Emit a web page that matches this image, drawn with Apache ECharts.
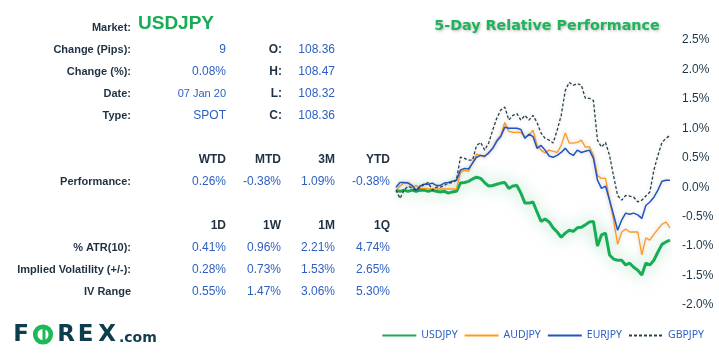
<!DOCTYPE html>
<html>
<head>
<meta charset="utf-8">
<script src="https://cdn.jsdelivr.net/npm/echarts@6/dist/echarts.min.js"></script>
<style>
html,body{margin:0;padding:0;background:#fff;}
#chart{width:719px;height:359px;}
</style>
</head>
<body>
<div id="chart"></div>
<script>
// ---- Chart data (percent change over 5 days) ----
const USDJPY = [-0.05,-0.07,-0.05,-0.07,-0.05,-0.07,-0.05,-0.05,-0.07,-0.05,-0.07,-0.08,-0.07,-0.10,-0.08,-0.07,
  0.07,0.08,0.10,0.14,0.17,0.15,0.08,0.02,0.03,0.05,0.07,0.08,-0.02,0.02,0.03,-0.10,-0.27,-0.27,-0.25,-0.42,
  -0.58,-0.54,-0.59,-0.69,-0.76,-0.85,-0.78,-0.73,-0.75,-0.69,-0.68,-0.64,-0.59,-0.58,-1.00,-0.81,-0.78,-1.15,
  -1.22,-1.24,-1.24,-1.32,-1.29,-1.36,-1.41,-1.49,-1.29,-1.32,-1.24,-1.10,-0.97,-0.93,-0.90];
const AUDJPY = [-0.05,0.02,0.07,0.08,0.00,0.03,-0.02,-0.02,-0.03,-0.03,-0.03,-0.03,-0.03,-0.03,-0.03,-0.03,
  0.25,0.29,0.27,0.42,0.56,0.54,0.51,0.59,0.66,0.80,0.88,1.10,0.95,0.93,0.93,0.93,0.85,0.88,0.97,0.71,
  0.63,0.58,0.63,0.61,0.59,0.71,0.92,0.75,0.75,0.76,0.80,0.68,0.69,0.54,0.20,0.15,0.15,-0.22,
  -0.56,-0.97,-0.76,-0.71,-0.76,-0.76,-0.76,-1.15,-0.86,-0.90,-0.80,-0.71,-0.63,-0.59,-0.69];
const EURJPY = [0.00,0.08,0.08,0.07,0.03,-0.05,0.02,0.05,0.05,0.07,0.03,0.03,0.07,0.08,0.10,0.12,
  0.29,0.32,0.31,0.41,0.51,0.54,0.53,0.58,0.66,0.78,0.86,1.02,1.00,1.00,1.00,0.98,0.83,0.90,0.86,0.66,
  0.71,0.63,0.53,0.51,0.54,0.59,0.66,0.58,0.54,0.63,0.59,0.61,0.63,0.49,0.12,-0.02,0.02,-0.22,
  -0.47,-0.73,-0.56,-0.44,-0.46,-0.44,-0.47,-0.53,-0.31,-0.25,-0.17,-0.05,0.10,0.12,0.12];
const GBPJPY = [-0.05,-0.19,-0.05,0.02,-0.02,-0.05,0.00,0.05,0.08,-0.05,0.00,0.00,0.03,0.07,0.08,0.12,
  0.51,0.49,0.46,0.46,0.71,0.76,0.63,0.75,0.97,1.17,1.31,1.36,1.14,1.22,1.25,1.14,1.22,1.14,1.22,1.10,
  0.92,0.83,0.80,0.75,0.97,1.22,1.64,1.78,1.73,1.76,1.73,1.51,1.51,1.47,0.80,0.68,0.76,0.54,
  0.19,-0.14,-0.22,-0.14,-0.15,-0.17,-0.25,-0.22,-0.15,-0.08,0.29,0.54,0.76,0.83,0.88];
const categories = USDJPY.map((_, i) => String(i + 1));
const yTicks = { min: -2.0, max: 2.5, step: 0.5 };

// ---- Table data ----
const marketName = 'USDJPY';
const infoLabels = ['Change (Pips):', 'Change (%):', 'Date:', 'Type:'];
const infoValues = ['9', '0.08%', '07 Jan 20', 'SPOT'];
const ohlcLabels = ['O:', 'H:', 'L:', 'C:'];
const ohlcValues = ['108.36', '108.47', '108.32', '108.36'];
const perfHeaders = ['WTD', 'MTD', '3M', 'YTD'];
const perfValues = ['0.26%', '-0.38%', '1.09%', '-0.38%'];
const volHeaders = ['1D', '1W', '1M', '1Q'];
const volLabels = ['% ATR(10):', 'Implied Volatility (+/-):', 'IV Range'];
const atrValues = ['0.41%', '0.96%', '2.21%', '4.74%'];
const ivValues = ['0.28%', '0.73%', '1.53%', '2.65%'];
const ivRangeValues = ['0.55%', '1.47%', '3.06%', '5.30%'];

// ---- Styles ----
const FF = '"Liberation Sans", Arial, sans-serif';
const DARK = '#1f3142';
const BLUE = '#2e5fc0';
const GREEN = '#17ad55';
const LABEL_FONT = 'bold 11px ' + FF;
const HEAD_FONT = 'bold 12px ' + FF;
const VAL_FONT = '12px ' + FF;

function txt(text, x, y, font, fill, align) {
  return { type: 'text', silent: true,
    style: { text: text, x: x, y: y, font: font, fill: fill, align: align || 'right', verticalAlign: 'middle' } };
}

const g = [];
g.push(txt('Market:', 131, 28, LABEL_FONT, DARK));
g.push(txt(marketName, 138, 24, 'bold 19px ' + FF, GREEN, 'left'));
const infoY = [50, 72, 94, 116];
infoLabels.forEach((l, i) => {
  g.push(txt(l, 131, infoY[i], LABEL_FONT, DARK));
  g.push(txt(infoValues[i], 226, infoY[i], i === 2 ? '11px ' + FF : VAL_FONT, BLUE));
  g.push(txt(ohlcLabels[i], 282, infoY[i], HEAD_FONT, DARK));
  g.push(txt(ohlcValues[i], 335, infoY[i], VAL_FONT, BLUE));
});
const colX = [226, 281, 335, 390];
perfHeaders.forEach((h, i) => g.push(txt(h, colX[i], 160, HEAD_FONT, DARK)));
g.push(txt('Performance:', 131, 182, LABEL_FONT, DARK));
perfValues.forEach((v, i) => g.push(txt(v, colX[i], 182, VAL_FONT, BLUE)));
volHeaders.forEach((h, i) => g.push(txt(h, colX[i], 226, HEAD_FONT, DARK)));
const volRows = [atrValues, ivValues, ivRangeValues];
const volY = [248, 270, 292];
volLabels.forEach((l, r) => {
  g.push(txt(l, 131, volY[r], LABEL_FONT, DARK));
  volRows[r].forEach((v, i) => g.push(txt(v, colX[i], volY[r], VAL_FONT, BLUE)));
});
// chart title
g.push({ type: 'text', silent: true, style: { text: '5-Day Relative Performance', x: 547, y: 26,
  font: 'bold 14.3px "DejaVu Sans", Verdana, sans-serif', fill: '#1db45a', align: 'center', verticalAlign: 'middle',
  textShadowColor: 'rgba(0,0,0,0.3)', textShadowBlur: 3, textShadowOffsetX: 1, textShadowOffsetY: 1 } });
// logo
const LOGO = '#0f3d50';
const LOGO_GREEN = '#1db954';
const logoFont = 'bold 23px "DejaVu Sans", Arial, sans-serif';
g.push(txt('F', 21, 335, logoFont, LOGO, 'center'));
g.push({ type: 'circle', silent: true, shape: { cx: 43, cy: 334.5, r: 7.8 }, style: { fill: 'none', stroke: LOGO_GREEN, lineWidth: 4.6 } });
g.push({ type: 'rect', silent: true, shape: { x: 42.5, y: 329, width: 3, height: 11 }, style: { fill: LOGO_GREEN } });
g.push(txt('R', 66, 335, logoFont, LOGO, 'center'));
g.push(txt('E', 85.5, 335, logoFont, LOGO, 'center'));
g.push(txt('X', 107, 335, logoFont, LOGO, 'center'));
g.push(txt('.com', 119, 338, 'bold 14px "DejaVu Sans", Arial, sans-serif', LOGO, 'left'));

const chart = echarts.init(document.getElementById('chart'), null, { renderer: 'canvas' });
const thinShadow = { shadowColor: 'rgba(0,0,0,0.18)', shadowBlur: 4 };
chart.setOption({
  animation: false,
  backgroundColor: '#ffffff',
  grid: { left: 396, right: 49, top: 40, bottom: 54 },
  legend: {
    data: ['USDJPY', 'AUDJPY', 'EURJPY', 'GBPJPY'],
    right: 10, top: 325, itemWidth: 34, itemHeight: 12, itemGap: 6,
    itemStyle: { opacity: 0 },
    textStyle: { fontSize: 10.5, color: '#2e5fc0', fontFamily: '"Noto Sans", "Open Sans", sans-serif' }
  },
  xAxis: { type: 'category', data: categories, boundaryGap: false, show: false },
  yAxis: {
    type: 'value', position: 'right', min: yTicks.min, max: yTicks.max, interval: yTicks.step,
    axisLine: { show: false }, axisTick: { show: false }, splitLine: { show: false },
    axisLabel: { margin: 12, fontSize: 12, color: '#1c3648', fontFamily: FF,
      formatter: v => v.toFixed(1) + '%' }
  },
  graphic: g,
  series: [
    { name: 'USDJPY', type: 'line', data: USDJPY, symbol: 'none', z: 2,
      lineStyle: { width: 3, color: GREEN, shadowColor: 'rgba(23,173,85,0.5)', shadowBlur: 16 },
      itemStyle: { color: GREEN } },
    { name: 'AUDJPY', type: 'line', data: AUDJPY, symbol: 'none', z: 3,
      lineStyle: Object.assign({ width: 1.3, color: '#ff9a1f' }, thinShadow), itemStyle: { color: '#ff9a1f' } },
    { name: 'EURJPY', type: 'line', data: EURJPY, symbol: 'none', z: 4,
      lineStyle: Object.assign({ width: 1.5, color: '#2255c4' }, thinShadow), itemStyle: { color: '#2255c4' } },
    { name: 'GBPJPY', type: 'line', data: GBPJPY, symbol: 'none', z: 5,
      lineStyle: Object.assign({ width: 1.3, color: '#24404f', type: [3, 2] }, thinShadow), itemStyle: { color: '#24404f' } }
  ]
});
</script>
</body>
</html>
